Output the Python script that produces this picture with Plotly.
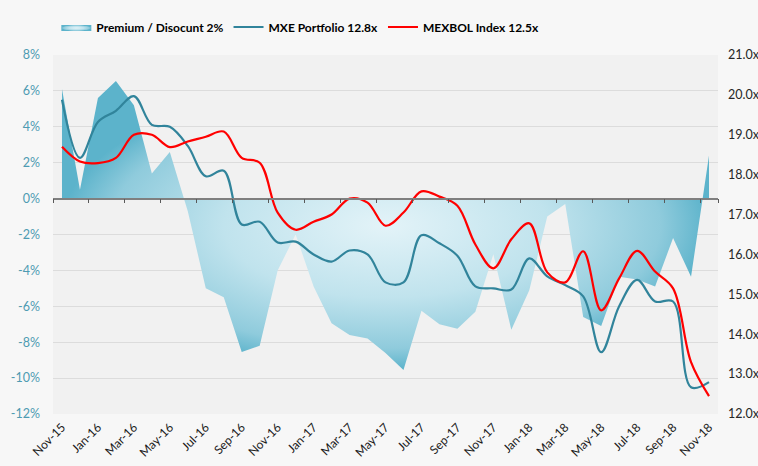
import plotly.graph_objects as go

months = ["Nov-15","Dec-15","Jan-16","Feb-16","Mar-16","Apr-16","May-16","Jun-16","Jul-16","Aug-16",
          "Sep-16","Oct-16","Nov-16","Dec-16","Jan-17","Feb-17","Mar-17","Apr-17","May-17","Jun-17",
          "Jul-17","Aug-17","Sep-17","Oct-17","Nov-17","Dec-17","Jan-18","Feb-18","Mar-18","Apr-18",
          "May-18","Jun-18","Jul-18","Aug-18","Sep-18","Oct-18","Nov-18"]

premium = [6.1, 0.5, 5.6, 6.55, 5.2, 1.4, 2.6, -0.7, -5.0, -5.5,
           -8.55, -8.2, -4.0, -2.0, -4.9, -6.95, -7.6, -7.8, -8.6, -9.55,
           -6.25, -7.0, -7.25, -6.3, -3.1, -7.3, -5.1, -1.0, -0.3, -6.6,
           -7.1, -4.35, -4.5, -4.9, -2.2, -4.35, 2.4]

mxe = [19.88, 18.42, 19.32, 19.6, 19.97, 19.25, 19.2, 18.72, 17.96, 18.1,
       16.75, 16.82, 16.3, 16.32, 16.0, 15.82, 16.1, 16.0, 15.3, 15.3,
       16.48, 16.28, 15.97, 15.2, 15.15, 15.12, 15.9, 15.45, 15.23, 14.95,
       13.55, 14.7, 15.36, 14.82, 14.82, 12.67, 12.8]

mexbol = [18.70, 18.33, 18.29, 18.42, 19.0, 19.0, 18.69, 18.83, 18.95, 19.08,
          18.42, 18.3, 17.05, 16.62, 16.82, 17.0, 17.4, 17.3, 16.72, 17.05,
          17.58, 17.45, 17.22, 16.25, 15.65, 16.38, 16.78, 15.55, 15.3, 16.08,
          14.6, 15.4, 16.09, 15.57, 15.15, 13.3, 12.45]

left_ticks = [-12, -10, -8, -6, -4, -2, 0, 2, 4, 6, 8]
right_ticks = [12, 13, 14, 15, 16, 17, 18, 19, 20, 21]

names = ["Premium / Disocunt 2%", "MXE Portfolio 12.8x", "MEXBOL Index 12.5x"]

FONT = "Lato"

fig = go.Figure()

fig.add_trace(go.Scatter(
    x=months, y=premium, name=names[0], mode="lines",
    line=dict(width=0, color="rgba(0,0,0,0)"),
    fill="tozeroy",
    fillgradient=dict(type="radial",
                      colorscale=[[0, "#e3f3f8"], [0.5, "#c0e3ed"], [0.85, "#8fcbdc"], [1, "#5cb3cb"]]),
    xaxis="x", yaxis="y", hoverinfo="skip",
))

# helper axis trace (draws the category axis crossing at 0%)
fig.add_trace(go.Scatter(
    x=months, y=[None] * len(months), mode="lines", showlegend=False,
    xaxis="x2", yaxis="y", hoverinfo="skip",
))

fig.add_trace(go.Scatter(
    x=months, y=mxe, name=names[1], mode="lines",
    line=dict(color="#31849b", width=2.2, shape="spline", smoothing=1.0),
    xaxis="x", yaxis="y2",
))

fig.add_trace(go.Scatter(
    x=months, y=mexbol, name=names[2], mode="lines",
    line=dict(color="#ff0000", width=2.2, shape="spline", smoothing=1.0),
    xaxis="x", yaxis="y2",
))

fig.update_layout(
    width=758, height=466,
    margin=dict(l=53, r=40, t=55, b=52, autoexpand=False),
    paper_bgcolor="#f7f7f7",
    plot_bgcolor="#f1f1f1",
    font=dict(family=FONT, size=12, color="#262626"),
    showlegend=True,
    legend=dict(orientation="h", x=0.005, xanchor="left", y=1.078, yanchor="middle",
                font=dict(family=FONT, size=12, color="#000000", weight="bold"),
                bgcolor="rgba(0,0,0,0)", itemwidth=30, tracegroupgap=0),
    xaxis=dict(
        type="category", categoryorder="array", categoryarray=months,
        range=[-0.5, 36.5], showgrid=False, zeroline=False, showline=False,
        tickmode="array", tickvals=months[::2], ticktext=months[::2],
        tickangle=-45, ticks="", tickfont=dict(family=FONT, size=12, color="#1a1a1a"),
        ticklabelstandoff=3,
    ),
    xaxis2=dict(
        type="category", categoryorder="array", categoryarray=months,
        overlaying="x", anchor="free", position=0.6, range=[-0.5, 36.5],
        showgrid=False, zeroline=False, showline=True, linecolor="#7f7f7f", linewidth=1.6,
        tickmode="array", tickvals=months[::2], tickson="boundaries",
        ticks="outside", ticklen=4, tickwidth=1, tickcolor="#595959",
        showticklabels=False,
    ),
    yaxis=dict(
        range=[-12, 8], tickmode="array", tickvals=left_ticks,
        ticktext=[f"{v}%" for v in left_ticks],
        showgrid=True, gridcolor="#dcdcdc", gridwidth=1.3, zeroline=False, showline=False,
        tickfont=dict(family=FONT, size=12.5, color="#4e9bb2"), ticks="", ticklabelstandoff=12,
    ),
    yaxis2=dict(
        range=[12, 21], overlaying="y", side="right", tickmode="array", tickvals=right_ticks,
        ticktext=[f"{v:.1f}x" for v in right_ticks],
        showgrid=False, zeroline=False, showline=False,
        tickfont=dict(family=FONT, size=12.5, color="#262626"), ticks="", ticklabelstandoff=9,
    ),
)

fig.write_html("out.html", config={"displayModeBar": False},
               post_script="document.body.style.margin='0';")
